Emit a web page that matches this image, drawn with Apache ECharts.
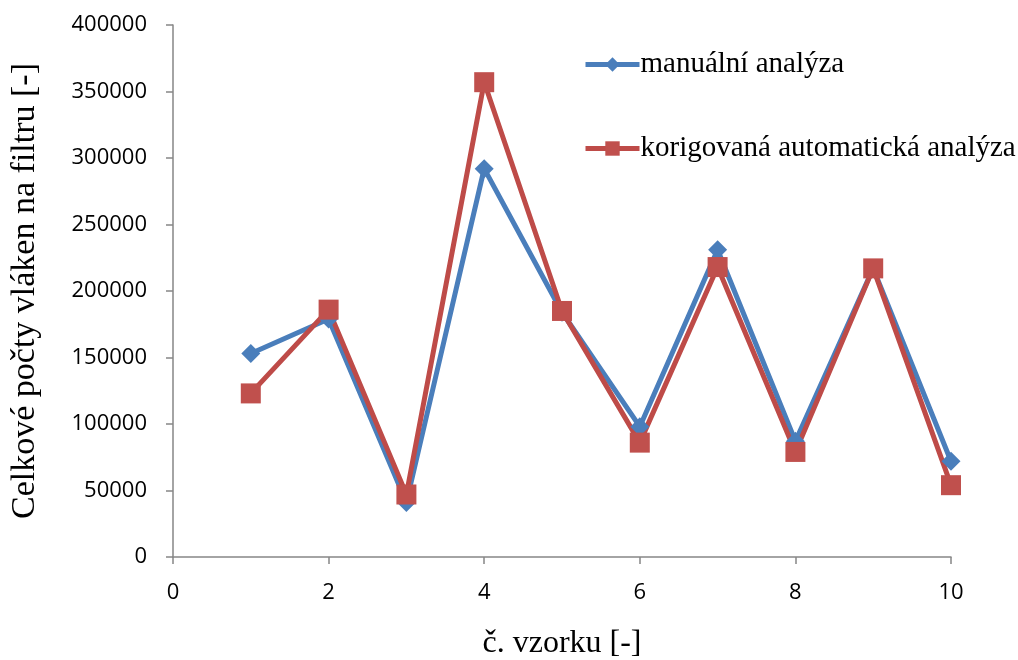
<!DOCTYPE html>
<html><head><meta charset="utf-8">
<script src="https://cdn.jsdelivr.net/npm/echarts@6/dist/echarts.min.js"></script>
<style>html,body{margin:0;padding:0;background:#fff}#c{width:1018px;height:660px}</style>
</head><body><div id="c"></div>
<script>
const samples = [1,2,3,4,5,6,7,8,9,10];
const manual = [153000,179000,41000,292000,184000,98000,231000,87000,217000,72000];
const corrected = [123000,186000,47000,357000,185000,86000,218000,79000,217000,54000];
const seriesNames = ['manuální analýza','korigovaná automatická analýza'];
const xTitle = 'č. vzorku [-]';
const yTitle = 'Celkové počty vláken na filtru [-]';

const chart = echarts.init(document.getElementById('c'));
const axisLine = {show:true, lineStyle:{color:'#868686', width:1.5}};
const tickFont = {fontFamily:'Open Sans', fontSize:22, color:'#000'};
chart.setOption({
  animation:false,
  backgroundColor:'#fff',
  grid:{left:173, right:67, top:25, bottom:103, containLabel:false, outerBoundsMode:'none'},
  legend:{
    orient:'vertical', left:578, top:45, itemGap:55,
    itemWidth:54, itemHeight:18,
    lineStyle:{width:5},
    textStyle:{fontFamily:'Liberation Serif', fontSize:29, color:'#000', padding:[0,0,0,-4]},
    data:[{name:seriesNames[0]},{name:seriesNames[1]}]
  },
  xAxis:{
    type:'value', min:0, max:10, interval:2,
    name:xTitle, nameLocation:'middle', nameGap:71,
    nameTextStyle:{fontFamily:'Liberation Serif', fontSize:32, color:'#000'},
    axisLine:axisLine, axisTick:{show:true, inside:false, length:7, lineStyle:{color:'#868686', width:1.5}},
    splitLine:{show:false},
    axisLabel:Object.assign({margin:25}, tickFont)
  },
  yAxis:{
    type:'value', min:0, max:400000, interval:50000,
    name:yTitle, nameLocation:'middle', nameGap:131, nameRotate:90,
    nameTextStyle:{fontFamily:'Liberation Serif', fontSize:34, color:'#000'},
    axisLine:axisLine, axisTick:{show:true, length:7, lineStyle:{color:'#868686', width:1.5}},
    splitLine:{show:false},
    axisLabel:Object.assign({margin:26, formatter:v=>String(v)}, tickFont)
  },
  series:[
    {name:seriesNames[0], type:'line', data:samples.map((s,i)=>[s,manual[i]]),
     symbol:'diamond', symbolSize:19,
     lineStyle:{color:'#4a7ebb', width:5}, itemStyle:{color:'#4a7ebb'}},
    {name:seriesNames[1], type:'line', data:samples.map((s,i)=>[s,corrected[i]]),
     symbol:'rect', symbolSize:20,
     lineStyle:{color:'#be4b48', width:5}, itemStyle:{color:'#c0504d'}}
  ]
});
</script></body></html>
